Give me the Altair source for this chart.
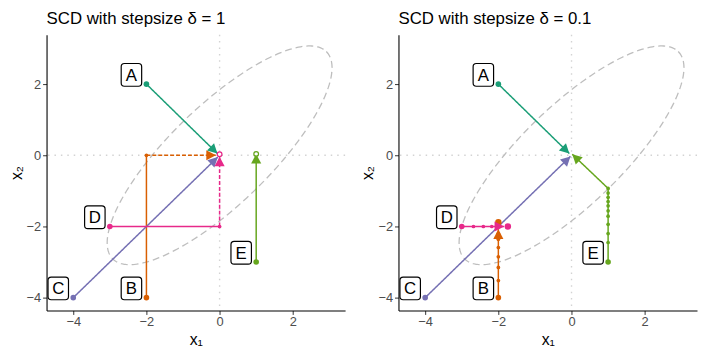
import altair as alt
import pandas as pd
import numpy as np

FONT = "Liberation Sans"

# ---------------- data ----------------
titles = ["SCD with stepsize δ = 1", "SCD with stepsize δ = 0.1"]
names = ["A", "B", "C", "D", "E"]
colors = ["#1B9E77", "#D95F02", "#7570B3", "#E7298A", "#66A61E"]
start_x = [-2.0, -2.0, -4.0, -3.0, 1.0]
start_y = [2.0, -4.0, -4.0, -2.0, -3.0]

# panel 1 (delta = 1): path vertices
p1_A_x = [-2.0, -0.06]
p1_A_y = [2.0, 0.05]
p1_B_x = [-2.0, -2.0, -0.1]
p1_B_y = [-4.0, 0.0, 0.0]
p1_C_x = [-4.0, -0.05]
p1_C_y = [-4.0, -0.05]
p1_D_x = [-3.0, 0.0, 0.0]
p1_D_y = [-2.0, -2.0, -0.04]
p1_E_x = [1.0, 1.0]
p1_E_y = [-3.0, 0.04]
p1_dashed_last = ["B", "D"]
p1_ring_path = ["D", "E"]
p1_ring_x = [0.0, 1.0]
p1_ring_y = [0.03, 0.04]

# panel 2 (delta = 0.1): path vertices
p2_A_x = [-2.0, -0.06]
p2_A_y = [2.0, 0.05]
p2_B_x = [-2.0, -2.0, -2.0, -2.0, -2.0, -2.0, -2.0, -2.0]
p2_B_y = [-4.0, -3.52, -3.15, -2.85, -2.59, -2.36, -2.2, -2.08]
p2_C_x = [-4.0, -0.03]
p2_C_y = [-4.0, -0.03]
p2_D_x = [-3.0, -2.68, -2.41, -2.18, -1.98, -1.84]
p2_D_y = [-2.0, -2.0, -2.0, -2.0, -2.0, -2.0]
p2_E_x = [1.0, 1.0, 1.0, 1.0, 1.0, 1.0, 1.0, 1.0, 1.0, 1.0, 1.0, 0.02]
p2_E_y = [-3.0, -2.45, -2.2, -1.94, -1.71, -1.56, -1.42, -1.3, -1.18, -1.06, -0.93, 0.03]
p2_end_path = ["B", "D"]
p2_end_x = [-2.0, -1.74]
p2_end_y = [-1.88, -2.0]

# contour ellipse  x1^2 + 2*b*x1*x2 + x2^2 = level
ell_b = -0.8
ell_level = 3.4

# ---------------- layout constants ----------------
XDOM = [-4.73, 3.43]
YDOM = [-4.36, 3.39]
W, H = 302, 279
PX = W / (XDOM[1] - XDOM[0])
PY = H / (YDOM[1] - YDOM[0])

paths = {
    0: {"A": (p1_A_x, p1_A_y), "B": (p1_B_x, p1_B_y), "C": (p1_C_x, p1_C_y),
        "D": (p1_D_x, p1_D_y), "E": (p1_E_x, p1_E_y)},
    1: {"A": (p2_A_x, p2_A_y), "B": (p2_B_x, p2_B_y), "C": (p2_C_x, p2_C_y),
        "D": (p2_D_x, p2_D_y), "E": (p2_E_x, p2_E_y)},
}

seg_rows, dot_rows, arrow_rows = [], [], []
for p, pdict in paths.items():
    for nm, (xs, ys) in pdict.items():
        n = len(xs)
        for i in range(n - 1):
            dash = "dashed" if (p == 0 and nm in p1_dashed_last and i == n - 2) else "solid"
            seg_rows.append(dict(panel=p, path=nm, x=xs[i], y=ys[i], x2=xs[i + 1], y2=ys[i + 1], dash=dash))
        for i in range(n - 1):
            dot_rows.append(dict(panel=p, path=nm, x=xs[i], y=ys[i], sz=32 if i == 0 else 14))
        dx = (xs[-1] - xs[-2]) * PX
        dy = (ys[-1] - ys[-2]) * PY
        ang = (np.degrees(np.arctan2(dx, dy)) + 360) % 360
        arrow_rows.append(dict(panel=p, path=nm, x=xs[-1], y=ys[-1], angle=float(ang)))
for nm, x, y in zip(p2_end_path, p2_end_x, p2_end_y):
    dot_rows.append(dict(panel=1, path=nm, x=x, y=y, sz=42))

seg_df = pd.DataFrame(seg_rows)
dot_df = pd.DataFrame(dot_rows)
arrow_df = pd.DataFrame(arrow_rows)
ring_df = pd.DataFrame(dict(panel=0, path=p1_ring_path, x=p1_ring_x, y=p1_ring_y))

lab_df = pd.DataFrame(dict(name=names, sx=start_x, sy=start_y))
lab_df["x"] = lab_df["sx"] - 0.41
lab_df["y"] = lab_df["sy"] + 0.26

# ellipse from its quadratic form
t = np.linspace(0, 2 * np.pi, 241)
a_major = np.sqrt(ell_level / (1 + ell_b))
a_minor = np.sqrt(ell_level / (1 - ell_b))
ell_df = pd.DataFrame(dict(
    t=np.arange(len(t)),
    x=(a_major * np.cos(t) + a_minor * np.sin(t)) / np.sqrt(2),
    y=(a_major * np.cos(t) - a_minor * np.sin(t)) / np.sqrt(2),
))

xs_ = alt.Scale(domain=XDOM, nice=False, zero=False)
ys_ = alt.Scale(domain=YDOM, nice=False, zero=False)
cs_ = alt.Scale(domain=names, range=colors)
TICKS = [-4, -2, 0, 2]

ARROW = "M0,0L1.05,2L-1.05,2Z"
BOX = ("M-0.62,-1L0.62,-1Q0.9,-1 0.9,-0.72L0.9,0.72Q0.9,1 0.62,1L-0.62,1"
       "Q-0.9,1 -0.9,0.72L-0.9,-0.72Q-0.9,-1 -0.62,-1Z")


def X(f="x"):
    return alt.X(f"{f}:Q", scale=xs_, axis=alt.Axis(values=TICKS, title="x₁", titlePadding=3, labelPadding=1))


def Y(f="y"):
    return alt.Y(f"{f}:Q", scale=ys_, axis=alt.Axis(values=TICKS, title="x₂", titlePadding=2))


def panel(p):
    zero = pd.DataFrame({"v": [0.0]})
    vline = alt.Chart(zero).mark_rule(color="#D3D3D3", strokeDash=[1.5, 5], strokeWidth=1.4).encode(x=X("v"))
    hline = alt.Chart(zero).mark_rule(color="#D3D3D3", strokeDash=[1.5, 5], strokeWidth=1.4).encode(y=Y("v"))
    ell = alt.Chart(ell_df).mark_line(color="#BEBEBE", strokeDash=[7, 4], strokeWidth=1.3).encode(
        x=X(), y=Y(), order="t:Q")
    segs = alt.Chart(seg_df[seg_df.panel == p]).mark_rule(strokeWidth=1.5).encode(
        x=X(), y=Y(), x2="x2:Q", y2="y2:Q",
        color=alt.Color("path:N", scale=cs_, legend=None),
        strokeDash=alt.StrokeDash("dash:N", scale=alt.Scale(domain=["solid", "dashed"], range=[[1, 0], [4, 2]]), legend=None),
    )
    dots = alt.Chart(dot_df[dot_df.panel == p]).mark_circle(opacity=1).encode(
        x=X(), y=Y(), color=alt.Color("path:N", scale=cs_, legend=None),
        size=alt.Size("sz:Q", scale=None),
    )
    arrows = alt.Chart(arrow_df[arrow_df.panel == p]).mark_point(shape=ARROW, filled=True, size=95, opacity=1).encode(
        x=X(), y=Y(), color=alt.Color("path:N", scale=cs_, legend=None),
        angle=alt.Angle("angle:Q", scale=None),
    )
    layers = [vline, hline, ell, segs, dots, arrows]
    if p == 0:
        rings = alt.Chart(ring_df).mark_point(shape="circle", size=22, fill="white", fillOpacity=1, strokeWidth=1.3, opacity=1).encode(
            x=X(), y=Y(), stroke=alt.Stroke("path:N", scale=cs_, legend=None))
        layers.append(rings)
    boxes = alt.Chart(lab_df).mark_point(shape=BOX, size=529, filled=True, fill="white", stroke="black",
                                         strokeWidth=1.2, opacity=1, fillOpacity=1).encode(x=X(), y=Y())
    texts = alt.Chart(lab_df).mark_text(fontSize=17, font=FONT, color="black", baseline="middle", dy=1).encode(
        x=X(), y=Y(), text="name:N")
    layers += [boxes, texts]
    return alt.layer(*layers).properties(
        width=W, height=H,
        title=alt.TitleParams(titles[p], anchor="start", frame="group", fontSize=17, font=FONT,
                              fontWeight="normal", color="black", offset=6),
    )


chart = alt.hconcat(panel(0), panel(1), spacing=14).properties(padding=0).configure_axis(
    domainColor="black", domainWidth=1.1, tickColor="#333333", tickSize=4, tickWidth=1,
    labelColor="#4D4D4D", labelFontSize=13, labelFont=FONT, labelPadding=2,
    titleFontSize=16, titleFont=FONT, titleFontWeight="normal", titleColor="black", grid=False,
).configure_view(stroke=None)

chart.save("out.html", embed_options={"renderer": "svg", "actions": False})
